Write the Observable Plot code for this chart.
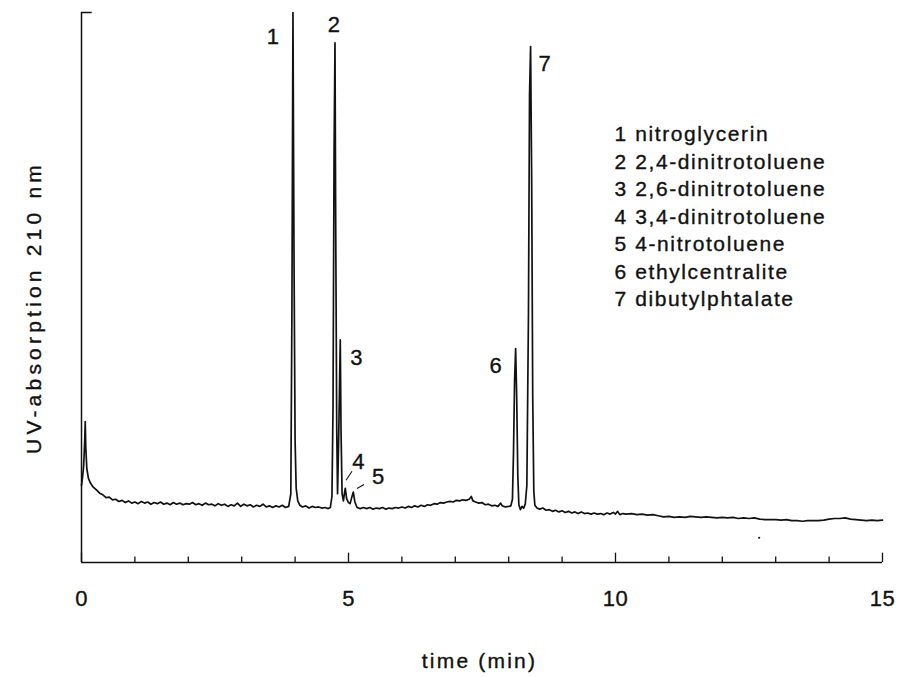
<!DOCTYPE html>
<html><head><meta charset="utf-8">
<script src="https://cdn.jsdelivr.net/npm/d3@7"></script>
<script src="https://cdn.jsdelivr.net/npm/@observablehq/plot@0.6"></script>
<style>
body{margin:0;background:#fff;}
#chart svg{display:block;}
</style></head><body><div id="chart"></div>
<script>
// Chromatogram trace (time in min, UV absorption in arbitrary units 0..100)
const time = [
0.00,0.02,0.04,0.06,0.07,0.08,0.10,0.13,0.17,0.22,0.28,0.34,0.40,0.46,0.52,0.58,0.64,0.70,0.76,0.82,0.88,0.94,
1.00,1.06,1.12,1.18,1.24,1.30,1.36,1.42,1.48,1.54,1.60,1.66,1.72,1.78,1.84,1.90,1.96,
2.02,2.08,2.14,2.20,2.26,2.32,2.38,2.44,2.50,2.56,2.62,2.68,2.74,2.80,2.86,2.92,2.98,
3.04,3.10,3.16,3.22,3.28,3.34,3.40,3.46,3.52,3.58,3.64,3.70,3.76,3.82,3.88,3.92,3.94,3.96,3.98,
4.00,4.02,4.05,4.09,4.14,4.20,4.26,4.32,4.38,4.44,4.50,4.56,4.62,4.66,4.69,4.71,4.73,4.747,4.76,4.78,4.795,4.815,4.846,4.86,4.88,4.905,4.925,4.94,4.965,
5.00,5.03,5.06,5.09,5.12,5.16,5.22,5.28,5.34,5.40,5.46,5.52,5.58,5.64,5.70,5.76,5.82,5.88,5.94,
6.00,6.06,6.12,6.18,6.24,6.30,6.36,6.42,6.48,6.54,6.60,6.66,6.72,6.78,6.84,6.90,6.96,
7.02,7.08,7.14,7.20,7.26,7.30,7.33,7.38,7.44,7.50,7.56,7.62,7.68,7.74,7.80,7.85,7.88,7.94,
8.00,8.04,8.07,8.09,8.11,8.13,8.15,8.17,8.19,8.22,8.25,8.28,8.31,8.34,8.37,8.39,8.41,8.43,8.45,8.47,8.49,8.53,8.58,8.64,8.70,8.76,8.82,8.88,8.94,
9.00,9.06,9.12,9.18,9.24,9.30,9.36,9.42,9.48,9.54,9.60,9.66,9.72,9.78,9.84,9.90,9.96,
10.00,10.04,10.08,10.14,10.20,10.30,10.40,10.50,10.60,10.70,10.80,10.90,
11.00,11.10,11.20,11.30,11.40,11.50,11.60,11.70,11.80,11.90,
12.00,12.10,12.20,12.30,12.40,12.50,12.60,12.70,12.80,12.90,
13.00,13.10,13.20,13.30,13.40,13.50,13.60,13.70,13.80,13.90,
14.00,14.10,14.20,14.30,14.40,14.50,14.60,14.70,14.80,14.90,15.00
];
const absorbance = [
14.0,15.5,17.5,22.0,25.6,21.0,17.0,15.3,14.4,13.7,13.2,12.6,12.3,11.8,11.9,11.4,11.5,11.1,11.3,10.9,11.2,10.8,
11.0,10.7,11.1,10.8,11.0,10.6,10.9,10.7,11.0,10.6,10.8,10.5,10.9,10.6,10.8,10.5,10.7,
10.6,10.9,10.5,10.7,10.4,10.8,10.5,10.6,10.3,10.7,10.4,10.6,10.2,10.5,10.3,10.8,10.2,
10.6,10.3,10.5,10.1,10.4,10.2,10.6,10.1,10.3,10.0,10.3,10.1,10.4,10.0,10.2,12.5,45,100,55,
22,13.5,11.2,10.4,10.1,10.3,9.9,10.2,10.0,10.1,9.9,10.0,9.8,10.0,12.0,28,75,94.5,62,24,12.5,22,40.5,24,12.5,11.2,12.6,13.5,11.6,
10.9,10.7,11.8,12.8,11.0,10.0,9.8,10.0,9.8,10.0,9.7,9.9,9.8,10.0,9.7,9.9,9.8,10.0,9.9,
10.1,9.9,10.2,10.0,10.3,10.1,10.4,10.2,10.5,10.4,10.7,10.6,10.9,10.8,11.0,11.1,11.0,
11.3,11.2,11.4,11.3,11.5,12.0,11.2,11.0,10.8,10.9,10.5,10.6,10.3,10.4,10.2,10.8,10.3,10.1,
10.2,10.3,11.5,20,33,38.9,30,16,10.5,9.6,10.2,9.9,10.6,14,45,85,93.8,70,30,13,10.4,9.9,9.7,9.9,9.5,9.6,9.3,9.5,9.2,
9.4,9.1,9.3,9.0,9.2,8.9,9.2,8.9,9.0,8.8,9.0,8.8,8.9,8.7,9.0,8.8,9.1,
8.8,9.3,8.7,8.9,8.8,8.9,8.7,8.8,8.6,8.7,8.5,8.3,
8.4,8.2,8.3,8.2,8.4,8.3,8.2,8.3,8.2,8.1,
8.2,8.1,8.2,8.0,8.1,8.0,8.1,7.9,7.8,7.8,
7.8,7.7,7.8,7.6,7.6,7.5,7.6,7.6,7.6,7.7,
7.9,8.0,8.0,8.1,7.9,7.8,7.7,7.6,7.7,7.6,7.7
];

// Peaks
const peakIds = ["1","2","3","4","5","6","7"];
const peakTimes = [3.96, 4.747, 4.846, 4.94, 5.09, 8.13, 8.41];
const peakHeights = [100, 94.5, 40.5, 13.5, 12.8, 38.9, 93.8];
const compoundNames = [
  "1 nitroglycerin",
  "2 2,4-dinitrotoluene",
  "3 2,6-dinitrotoluene",
  "4 3,4-dinitrotoluene",
  "5 4-nitrotoluene",
  "6 ethylcentralite",
  "7 dibutylphtalate"
];

// Axis ticks
const majorTicks = [0, 5, 10, 15];
const minorTicks = [1, 2, 3, 4, 6, 7, 8, 9, 11, 12, 13, 14];
const xTitle = "time (min)";
const yTitle = "UV-absorption 210 nm";

// scan artifact dot
const artifactTime = [12.69];
const artifactValue = [4.5];

// ---- layout (pixels) ----
const W = 900, H = 677, mL = 81, mR = 18, mT = 12, mB = 115;
const kx = (W - mL - mR) / 15, ky = (H - mT - mB) / 100;
const labelDx = [-20, -1, 16, 13, 25, -20, 14];
const labelDy = [24, -18, 18, -26, -15, 17, 17];
const leaderPeaks = [3, 4];
const leaderFrom = [[0.7, -8], [3.7, -3.6]];
const leaderTo = [[6.7, -17], [10.7, -7.6]];
const legendX = 614;
const legendRowY = [134, 161.5, 189, 216.5, 244, 271.5, 299];
const yTitlePos = [34, 307];
const xTitlePos = [479, 661];

const trace = time.map((t, i) => ({t, v: absorbance[i]}));
const peaks = peakIds.map((id, i) => ({id, t: peakTimes[i], v: peakHeights[i], dx: labelDx[i], dy: labelDy[i]}));
const leaders = leaderPeaks.map((p, j) => ({
  x1: peakTimes[p] + leaderFrom[j][0] / kx, y1: peakHeights[p] - leaderFrom[j][1] / ky,
  x2: peakTimes[p] + leaderTo[j][0] / kx, y2: peakHeights[p] - leaderTo[j][1] / ky
}));
const px2x = p => (p - mL) / kx;
const px2y = p => 100 - (p - mT) / ky;
const legend = compoundNames.map((name, i) => ({name, x: px2x(legendX), y: px2y(legendRowY[i])}));

const ink = "#111";
const txt = {fill: ink, stroke: ink, strokeWidth: 0.35, lineAnchor: "middle"};
const plot = Plot.plot({
  width: W, height: H,
  marginLeft: mL, marginRight: mR, marginTop: mT, marginBottom: mB,
  x: {domain: [0, 15], axis: null},
  y: {domain: [0, 100], axis: null},
  style: {fontFamily: "'Liberation Sans', Arial, Helvetica, sans-serif", fontSize: "21px", background: "#fff", color: ink},
  marks: [
    Plot.ruleY([0], {stroke: ink, strokeWidth: 1.5}),
    Plot.ruleX([0], {stroke: ink, strokeWidth: 1.5}),
    Plot.ruleY([100], {x1: 0, x2: 0.2, stroke: ink, strokeWidth: 1.5}),
    Plot.ruleX(minorTicks, {x: d => d, y1: 0, y2: 1.0, stroke: ink, strokeWidth: 1.3}),
    Plot.ruleX(majorTicks, {x: d => d, y1: 0, y2: 1.7, stroke: ink, strokeWidth: 1.3}),
    Plot.text(majorTicks, {...txt, x: d => d, y: 0, dy: 36, text: d => String(d), fontSize: 22}),
    Plot.text([xTitle], {...txt, x: px2x(xTitlePos[0]), y: px2y(xTitlePos[1]), text: d => d, fontSize: 21}),
    Plot.text([yTitle], {...txt, x: px2x(yTitlePos[0]), y: px2y(yTitlePos[1]), rotate: -90, text: d => d, fontSize: 21}),
    Plot.line(trace, {x: "t", y: "v", stroke: ink, strokeWidth: 1.7, strokeLinejoin: "round", curve: "linear"}),
    Plot.dot(artifactTime.map((t, i) => ({t, v: artifactValue[i]})), {x: "t", y: "v", r: 1.1, fill: ink, stroke: null}),
    Plot.link(leaders, {x1: "x1", y1: "y1", x2: "x2", y2: "y2", stroke: ink, strokeWidth: 1.1}),
    Plot.text(peaks, {...txt, x: d => d.t + d.dx / kx, y: d => d.v - d.dy / ky, text: "id", fontSize: 22}),
    Plot.text(legend, {...txt, x: "x", y: "y", text: "name", textAnchor: "start", fontSize: 21})
  ]
});
// text tracking to match the typeset original
d3.select(plot).selectAll("text").each(function () {
  const s = this.textContent;
  if (compoundNames.includes(s)) this.style.letterSpacing = "1.6px";
  else if (s === xTitle) this.style.letterSpacing = "2.2px";
  else if (s === yTitle) this.style.letterSpacing = "4.2px";
  else if (majorTicks.map(String).includes(s)) this.style.letterSpacing = "0.5px";
});
document.getElementById("chart").appendChild(plot);
</script></body></html>
